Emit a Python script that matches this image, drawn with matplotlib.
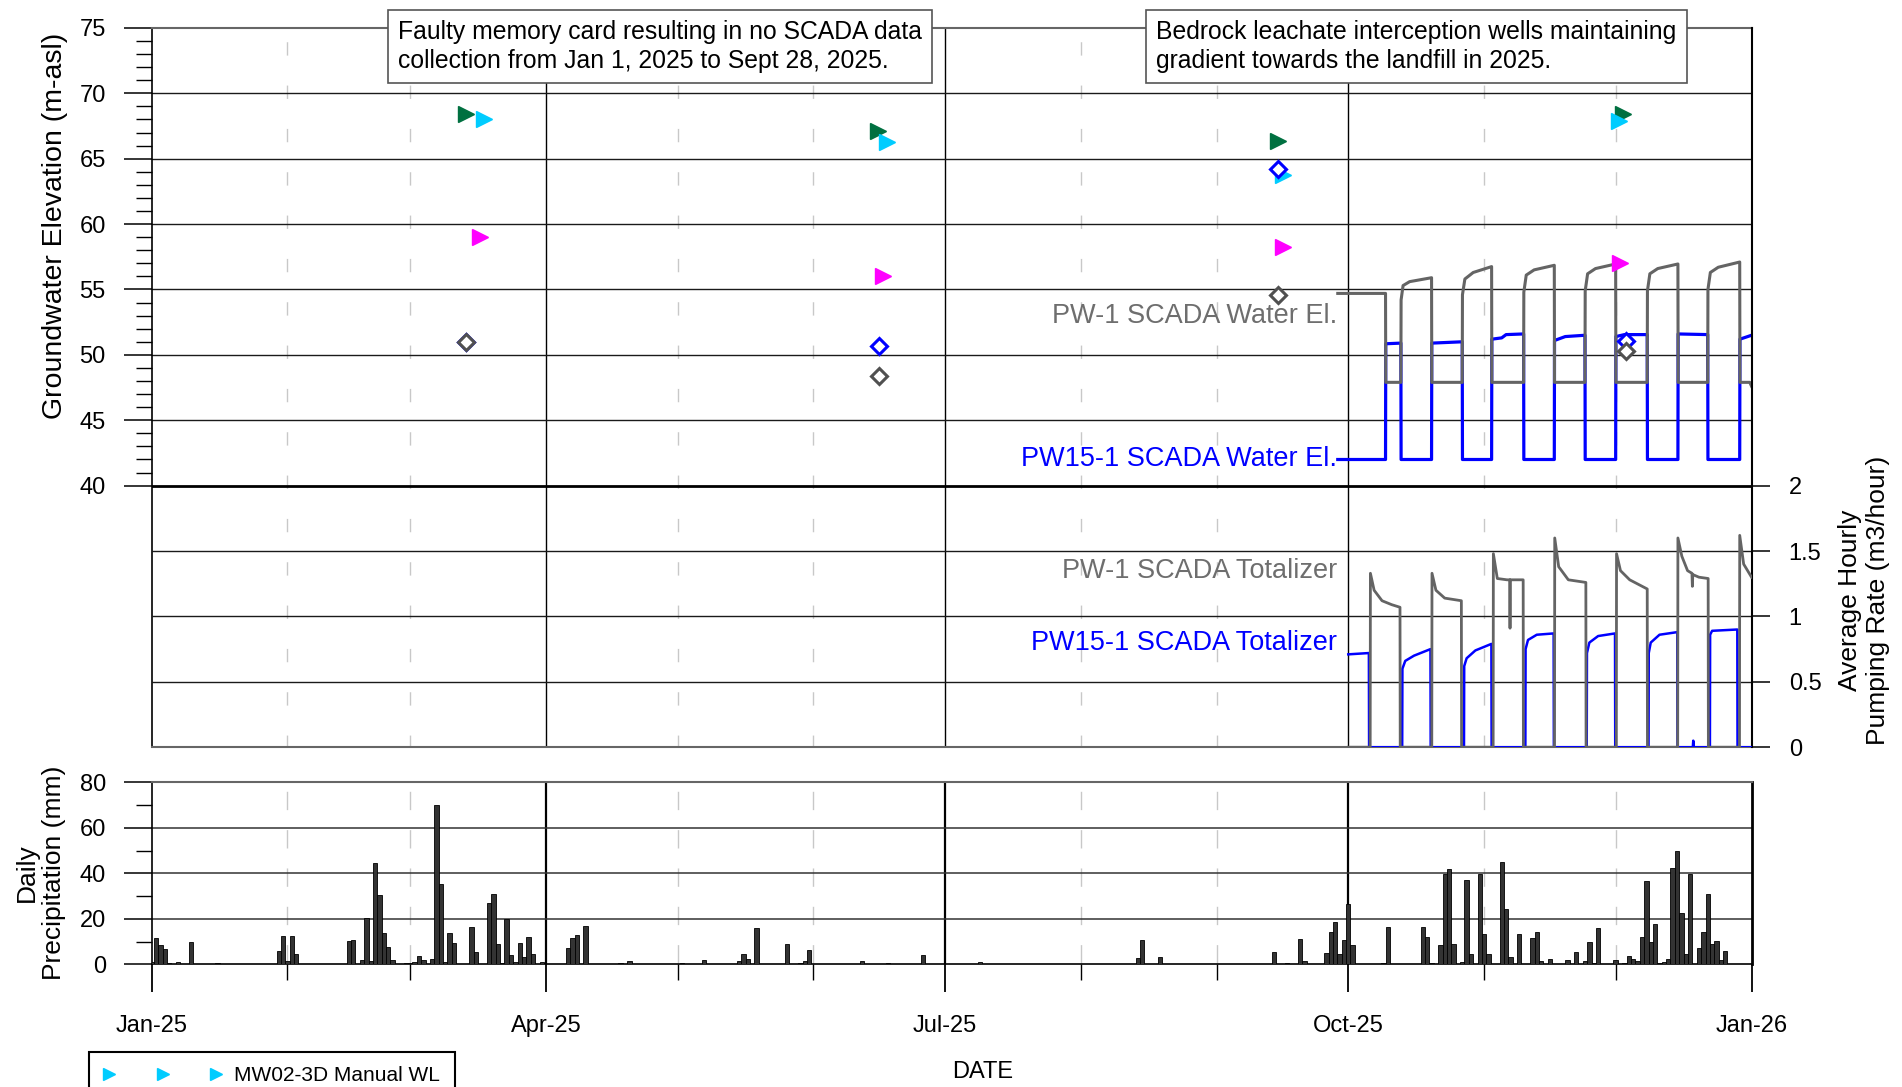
import datetime as dt

import matplotlib
matplotlib.use("Agg")
import matplotlib.pyplot as plt
import matplotlib.dates as mdates
import numpy as np

plt.rcParams['font.family'] = ['Liberation Sans', 'DejaVu Sans']

# ---------------------------------------------------------------- data
# manual water levels: day of year (Jan 1, 2025 = 0), elevation (m-asl)
wl_green_doy = [71.8, 165.8, 256.9, 335.6]
wl_green = [68.4, 67.15, 66.35, 68.4]
wl_cyan_doy = [75.9, 167.8, 258.0, 334.8]          # MW02-3D
wl_cyan = [68.0, 66.3, 63.75, 67.85]
wl_magenta_doy = [74.9, 166.8, 258.0, 334.9]
wl_magenta = [59.0, 56.05, 58.25, 57.0]
wl_blue_doy = [71.8, 166.0, 256.9, 336.3]
wl_blue = [50.95, 50.65, 64.2, 51.05]
wl_grey_doy = [71.8, 166.0, 256.9, 336.3]
wl_grey = [50.95, 48.4, 54.6, 50.3]

# SCADA records: days after Oct 1, 2025
pw1_wl_t = [-2.4, 8.5, 8.55, 12.0, 12.05, 12.5, 14.0, 19.0,
            19.05, 26.0, 26.05, 26.6, 28.5, 32.7,
            32.75, 40.0, 40.05, 40.6, 42.4, 47.0,
            47.05, 54.0, 54.05, 54.6, 56.4, 61.0,
            61.05, 68.2, 68.25, 68.8, 70.6, 75.2,
            75.25, 82.0, 82.05, 82.6, 84.4, 89.3,
            89.35, 91.6, 92.0]
pw1_wl = [54.7, 54.7, 47.9, 47.9, 54.2, 55.3, 55.6, 55.9,
          47.9, 47.9, 54.6, 55.8, 56.3, 56.75,
          47.9, 47.9, 54.8, 56.1, 56.5, 56.85,
          47.9, 47.9, 54.9, 56.2, 56.6, 56.95,
          47.9, 47.9, 54.9, 56.2, 56.6, 56.95,
          47.9, 47.9, 55.0, 56.3, 56.7, 57.1,
          47.9, 47.9, 47.6]

pw15_wl_t = [-2.4, 8.5, 8.55, 12.0, 12.05, 19.0, 19.05, 26.0, 26.05, 32.7,
             32.75, 35.0, 36.0, 40.0, 40.05, 47.0, 47.05, 49.5, 54.0, 54.05,
             61.0, 61.05, 63.0, 68.2, 68.25, 75.2, 75.25, 82.0, 82.05, 89.3,
             89.35, 92.0]
pw15_wl = [42.0, 42.0, 50.85, 50.9, 42.0, 42.0, 50.9, 51.0, 42.0, 42.0,
           51.2, 51.3, 51.55, 51.6, 42.0, 42.0, 51.1, 51.4, 51.5, 42.0,
           42.0, 51.4, 51.55, 51.55, 42.0, 42.0, 51.6, 51.55, 42.0, 42.0,
           51.2, 51.5]

pw1_q_t = [0.0, 5.0, 5.05, 5.9, 7.7, 9.9, 11.8, 11.85,
           19.05, 19.1, 20.0, 22.0, 25.8, 25.85,
           33.05, 33.1, 34.0, 36.2, 36.85, 36.9, 36.95, 39.9, 39.95,
           47.05, 47.1, 48.0, 50.2, 54.2, 54.25,
           61.15, 61.2, 62.1, 64.2, 68.2, 68.25,
           75.15, 75.2, 76.1, 77.4, 78.4, 78.5, 78.6, 80.0, 82.1, 82.15,
           89.25, 89.3, 90.2, 92.0]
pw1_q = [0, 0, 1.33, 1.2, 1.12, 1.09, 1.07, 0,
         0, 1.33, 1.2, 1.14, 1.12, 0,
         0, 1.48, 1.29, 1.28, 1.28, 0.91, 1.28, 1.28, 0,
         0, 1.6, 1.38, 1.28, 1.26, 0,
         0, 1.48, 1.35, 1.28, 1.21, 0,
         0, 1.6, 1.46, 1.35, 1.33, 1.23, 1.32, 1.30, 1.29, 0,
         0, 1.62, 1.4, 1.3]

pw15_q_t = [0.0, 4.7, 4.75, 12.3, 12.35, 13.0, 15.0, 18.75, 18.8,
            26.4, 26.45, 27.0, 29.0, 32.65, 32.7,
            40.4, 40.45, 41.0, 43.0, 46.85, 46.9,
            54.4, 54.45, 55.0, 57.0, 60.85, 60.9,
            68.5, 68.55, 69.0, 71.0, 75.05, 75.1,
            78.6, 78.7, 78.8,
            82.5, 82.55, 83.0, 88.75, 88.8, 92.0]
pw15_q = [0.71, 0.72, 0, 0, 0.6, 0.66, 0.7, 0.75, 0,
          0, 0.62, 0.68, 0.74, 0.79, 0,
          0, 0.75, 0.82, 0.86, 0.87, 0,
          0, 0.72, 0.8, 0.85, 0.87, 0,
          0, 0.72, 0.8, 0.86, 0.88, 0,
          0, 0.05, 0,
          0, 0.86, 0.89, 0.9, 0, 0]

# daily precipitation: day of year (Jan 1, 2025 = 0), mm
precip_doy = [0, 1, 2, 3, 4, 6, 7, 9, 15, 29, 30, 31, 32, 33, 34, 45, 46, 48,
              49, 50, 51, 52, 53, 54, 55, 57, 58, 59, 60, 61, 62, 64, 65, 66,
              67, 68, 69, 73, 74, 77, 78, 79, 80, 81, 82, 83, 84, 85, 86, 87,
              89, 94, 95, 96, 97, 98, 99, 107, 109, 121, 126, 130, 134, 135,
              136, 138, 145, 148, 149, 150, 162, 168, 171, 176, 189, 198, 225,
              226, 227, 230, 256, 259, 262, 263, 268, 269, 270, 271, 272, 273,
              274, 281, 282, 290, 291, 292, 294, 295, 296, 297, 298, 299, 300,
              301, 303, 304, 305, 307, 308, 309, 310, 312, 315, 316, 317, 318,
              319, 323, 325, 327, 328, 329, 330, 334, 336, 337, 338, 339, 340,
              341, 342, 343, 344, 345, 346, 347, 348, 349, 350, 351, 353, 354,
              355, 356, 357, 358, 359]
precip_mm = [1.0, 11.5, 8.6, 6.6, 0.5, 0.8, 0.2, 10.0, 0.5, 5.8, 12.3, 1.3,
             12.3, 4.4, 0.3, 10.2, 10.8, 1.9, 20.4, 1.3, 44.6, 30.6, 13.7, 7.8,
             1.8, 0.3, 0.5, 0.7, 0.9, 3.7, 2.1, 2.4, 70.1, 35.3, 1.0, 13.6, 9.4,
             16.5, 5.2, 26.9, 31.0, 8.9, 0.6, 19.9, 4.1, 1.0, 9.4, 3.0, 11.8,
             4.4, 1.2, 0.3, 7.1, 11.7, 12.8, 0.3, 16.7, 0.6, 1.3, 0.4, 1.9, 0.3,
             1.5, 4.6, 2.2, 15.8, 8.9, 0.6, 1.5, 6.3, 1.3, 0.6, 0.3, 4.1, 1.2,
             0.2, 2.8, 10.5, 0.3, 3.2, 5.5, 0.5, 10.9, 1.3, 5.0, 14.3, 18.7, 4.7,
             10.6, 26.7, 8.4, 0.6, 16.5, 16.4, 11.8, 0.4, 8.6, 39.9, 41.9, 8.9,
             0.3, 0.9, 37.2, 4.6, 39.7, 13.1, 4.7, 0.3, 44.9, 24.5, 3.2, 13.3,
             11.5, 14.0, 1.3, 0.3, 2.4, 1.9, 5.5, 1.5, 9.6, 0.7, 15.9, 2.1, 0.6,
             3.5, 2.2, 1.6, 11.8, 36.6, 9.9, 17.7, 0.6, 0.9, 2.4, 42.2, 49.9,
             22.7, 4.6, 39.6, 7.1, 14.3, 30.7, 9.0, 10.2, 2.1, 5.8]

quarter_starts = [dt.datetime(2025, 4, 1), dt.datetime(2025, 7, 1), dt.datetime(2025, 10, 1)]
month_starts = [dt.datetime(2025, m, 1) for m in (2, 3, 5, 6, 8, 9, 11, 12)]

GREY = '#646464'
BLUE = '#0000ff'

jan1 = mdates.date2num(dt.datetime(2025, 1, 1))
oct1 = mdates.date2num(dt.datetime(2025, 10, 1))
x_end = mdates.date2num(dt.datetime(2026, 1, 1))

fig = plt.figure(figsize=(19.02, 10.87), dpi=100)
ax = fig.add_axes([0.0797, 0.3126, 0.8412, 0.6617])
ax2 = ax.twinx()
axp = fig.add_axes([0.0797, 0.1129, 0.8412, 0.1673])

# ---------------------------------------------------------------- top panel
ax.set_xlim(jan1, x_end)
ax.set_ylim(20, 75)
ax2.set_ylim(0, 5.5)

for d in month_starts:
    x = mdates.date2num(d)
    ax.plot([x, x], [75, 20], color='#c8c8c8', lw=1, ls=(21.3, (9.6, 21.6)), zorder=0.5)
for d in quarter_starts:
    ax.axvline(mdates.date2num(d), color='black', lw=1.0, zorder=1)
for y in range(45, 75, 5):
    ax.axhline(y, color='#1a1a1a', lw=1.0, zorder=1)
ax.axhline(40, color='black', lw=2.0, zorder=1)
for q in (0.5, 1.0, 1.5):
    ax2.axhline(q, color='#1a1a1a', lw=1.0, zorder=0)

ax.plot(oct1 + np.array(pw15_wl_t), pw15_wl, color=BLUE, lw=2.3, zorder=3)
ax.plot(oct1 + np.array(pw1_wl_t), pw1_wl, color=GREY, lw=2.2, zorder=3)
ax2.plot(oct1 + np.array(pw15_q_t), pw15_q, color=BLUE, lw=1.8, zorder=3)
ax2.plot(oct1 + np.array(pw1_q_t), pw1_q, color=GREY, lw=2.0, zorder=3)

ax.plot(jan1 + np.array(wl_green_doy), wl_green, ls='none', marker='>', ms=11.5,
        color='#007040', zorder=5)
ax.plot(jan1 + np.array(wl_magenta_doy), wl_magenta, ls='none', marker='>', ms=11.5,
        color='#ff00ff', zorder=5)
cyan, = ax.plot(jan1 + np.array(wl_cyan_doy), wl_cyan, ls='none', marker='>', ms=11.5,
                color='#00ccff', zorder=5, label='MW02-3D Manual WL')
ax.plot(jan1 + np.array(wl_blue_doy), wl_blue, ls='none', marker='D', ms=8,
        mfc='white', mec=BLUE, mew=2.2, zorder=6)
ax.plot(jan1 + np.array(wl_grey_doy), wl_grey, ls='none', marker='D', ms=8,
        mfc='white', mec='#505050', mew=2.2, zorder=6)

lab_x = oct1 - 2.6
ax.text(lab_x, 53.0, 'PW-1 SCADA Water El.', color='#6e6e6e', fontsize=19.5,
        ha='right', va='center')
ax.text(lab_x, 42.05, 'PW15-1 SCADA Water El.', color=BLUE, fontsize=19.5,
        ha='right', va='center')
ax2.text(lab_x, 1.35, 'PW-1 SCADA Totalizer', color='#6e6e6e', fontsize=19.5,
         ha='right', va='center')
ax2.text(lab_x, 0.80, 'PW15-1 SCADA Totalizer', color=BLUE, fontsize=19.5,
         ha='right', va='center')

ax.set_yticks(range(40, 80, 5))
ax.set_yticks([v for v in range(41, 75) if v % 5], minor=True)
ax.tick_params(axis='y', which='major', direction='out', length=20, width=1.1,
               labelsize=17, pad=13)
ax.tick_params(axis='y', which='minor', direction='out', length=11.5, width=1.0)
ax.tick_params(axis='x', which='both', bottom=False, labelbottom=False)
ax.yaxis.get_major_ticks()[-1].tick1line.set_color('#666666')
ax2.set_yticks([0, 0.5, 1, 1.5, 2])
ax2.set_yticklabels(['0', '0.5', '1', '1.5', '2'])
ax2.tick_params(axis='y', which='major', direction='out', length=13, width=1.1,
                labelsize=17, pad=13.7)
ax2.tick_params(axis='x', which='both', bottom=False, labelbottom=False)

for s in ('top', 'bottom'):
    ax.spines[s].set_color('#666666')
    ax.spines[s].set_linewidth(1.5)
ax.spines['left'].set_linewidth(1.2)
ax.spines['right'].set_visible(False)
for s in ('top', 'bottom', 'left'):
    ax2.spines[s].set_visible(False)
ax2.spines['right'].set_linewidth(1.5)

# ---------------------------------------------------------------- precipitation
axp.set_xlim(jan1, x_end)
axp.set_ylim(0, 80)
for d in month_starts:
    x = mdates.date2num(d)
    axp.plot([x, x], [80, 0], color='#c8c8c8', lw=1, ls=(20.9, (13.2, 14.4)), zorder=0.5)
for d in quarter_starts:
    axp.axvline(mdates.date2num(d), color='black', lw=1.6, zorder=1)
for y in (20, 40, 60):
    axp.axhline(y, color='#333333', lw=1.1, zorder=1)

axp.bar(jan1 + np.array(precip_doy), precip_mm, width=1.0, color='#333333',
        edgecolor='black', linewidth=0.6, zorder=3)

axp.xaxis_date()
axp.xaxis.set_major_locator(mdates.MonthLocator(bymonth=[1, 4, 7, 10]))
axp.xaxis.set_minor_locator(mdates.MonthLocator())
axp.xaxis.set_major_formatter(mdates.DateFormatter('%b-%y'))
axp.set_yticks([0, 20, 40, 60, 80])
axp.set_yticks([10, 30, 50, 70], minor=True)
axp.tick_params(axis='y', which='major', direction='out', length=20, width=1.1,
                labelsize=17, pad=13)
axp.tick_params(axis='y', which='minor', direction='out', length=11.5, width=1.0)
axp.tick_params(axis='x', which='major', direction='out', length=20, width=1.3,
                labelsize=17, pad=16.5)
axp.tick_params(axis='x', which='minor', direction='out', length=11.5, width=1.0)
axp.spines['top'].set_color('#666666')
axp.spines['top'].set_linewidth(1.5)
axp.spines['left'].set_linewidth(1.2)
axp.spines['right'].set_linewidth(2.0)
axp.spines['bottom'].set_linewidth(1.2)

# ---------------------------------------------------------------- titles, notes
fig.text(0.0287, 0.7925, 'Groundwater Elevation (m-asl)', rotation=90,
         fontsize=20.5, ha='center', va='center')
fig.text(0.0213, 0.197, 'Daily\nPrecipitation (mm)', rotation=90, fontsize=19,
         ha='center', va='center', multialignment='center')
fig.text(0.980, 0.448, 'Average Hourly\nPumping Rate (m3/hour)', rotation=90,
         fontsize=19, ha='center', va='center', multialignment='center')
fig.text(0.5166, 0.0135, 'DATE', fontsize=17, ha='center', va='center')

box_kw = dict(boxstyle='square,pad=0.42', fc='white', ec='#555555', lw=1.2)
fig.text(398 / 1902, 1 - 20 / 1087,
         'Faulty memory card resulting in no SCADA data\n'
         'collection from Jan 1, 2025 to Sept 28, 2025.',
         fontsize=17.8, ha='left', va='top', linespacing=1.25, bbox=box_kw)
fig.text(1156 / 1902, 1 - 20 / 1087,
         'Bedrock leachate interception wells maintaining\n'
         'gradient towards the landfill in 2025.',
         fontsize=17.8, ha='left', va='top', linespacing=1.25, bbox=box_kw)

leg = fig.legend(handles=[cyan], loc='upper left',
                 bbox_to_anchor=(88.5 / 1902, 1 - 1052 / 1087),
                 bbox_transform=fig.transFigure, numpoints=3, markerscale=0.7,
                 fontsize=15, handlelength=5.75, handletextpad=0.56,
                 borderpad=0.69, borderaxespad=0, fancybox=False,
                 edgecolor='black', framealpha=1)
leg.get_frame().set_linewidth(1.5)

fig.savefig('out.png', dpi=100)
